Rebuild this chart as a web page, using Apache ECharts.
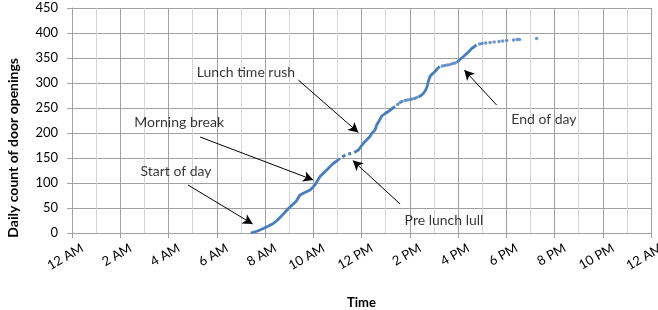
<!DOCTYPE html>
<html>
<head>
<meta charset="utf-8">
<script src="https://cdn.jsdelivr.net/npm/echarts@6/dist/echarts.min.js"></script>
<style>
    html, body { margin: 0; padding: 0; background: #fff; }
    #chart { width: 658px; height: 310px; }
</style>
</head>
<body>
<div id="chart"></div>
<script>
// hours of the day (decimal) and cumulative count
// null breaks the line where the points thin out
const lineHours = [7.41, 7.7, 7.93, 8.15, 8.34, 8.5, 8.62, 8.8, 8.97, 9.17, 9.3, 9.45, 9.65, 9.87, 10.07, 10.28, 10.45, 10.56, 10.7, 10.83, 11.0, 11.11, null,
    11.2, 11.33, null, 11.45, 11.57, null,
    11.7, 11.87, 11.94, 12.07, 12.15, 12.35, 12.42, 12.56, 12.63, 12.75, 12.84, 12.95, 13.11, 13.25, 13.39, null,
    14.36, 14.47, 14.56, 14.65, 14.72, 14.77, 14.84, 14.95, 15.05, 15.15, 15.25, null,
    15.95, 16.08, 16.15, 16.25, 16.36, 16.45, 16.57, 16.65, 16.77];
const lineCounts = [0, 4, 9, 14, 19, 25, 31, 40, 49, 58, 64, 76, 81, 86, 96, 113, 121, 126, 133, 139, 145, 149, null,
    152, 156, null, 158, 159, null,
    161, 166, 167, 179, 183, 193, 199, 206, 216, 226, 234, 238, 243, 248, 253, null,
    272, 275, 279, 285, 293, 303, 313, 319, 323, 329, 333, null,
    341, 347, 350, 354, 359, 363, 369, 372, 376];

const dotHours = [13.5, 13.6, 13.67, 13.8, 13.9, 14.01, 14.1, 14.2, 14.29,
    15.35, 15.45, 15.56, 15.67, 15.78, 15.88,
    16.9, 17.0, 17.15, 17.33, 17.5, 17.7, 17.85, 18.02, 18.3, 18.45, 18.55, 19.26];
const dotCounts = [257, 261, 263, 265, 266, 267, 268, 269, 271,
    334, 335, 336, 337, 339, 340,
    378, 379, 380, 381, 382, 383, 384, 385, 386, 387, 387, 389];

const xTickLabels = ['12 AM', '2 AM', '4 AM', '6 AM', '8 AM', '10 AM', '12 PM', '2 PM', '4 PM', '6 PM', '8 PM', '10 PM', '12 AM'];
const yTicks = [0, 50, 100, 150, 200, 250, 300, 350, 400, 450];

// callouts: text, where the text sits, arrow start, arrow tip (hour, count)
const notes = [
    { text: 'Start of day', at: [4.31, 124], from: [4.81, 96], to: [7.49, 18] },
    { text: 'Morning break', at: [4.44, 222], from: [5.31, 192], to: [10.0, 106] },
    { text: 'Lunch time rush', at: [7.21, 322], from: [9.38, 306], to: [11.87, 201] },
    { text: 'Pre lunch lull', at: [15.42, 26], from: [13.6, 58], to: [11.64, 145] },
    { text: 'End of day', at: [19.56, 228], from: [17.6, 256], to: [16.26, 326] }
];

const blue = '#4a7ebb';
const axisGrey = '#a0a0a0';
const font = 'Lato';

let chart = echarts.init(document.getElementById('chart'), null, { renderer: 'canvas' });

let lineData = lineHours.map((h, i) => h === null ? [null, null] : [h, lineCounts[i]]);
let dotData = dotHours.map((h, i) => [h, dotCounts[i]]);

let option = {
    animation: false,
    backgroundColor: '#fff',
    grid: {
        left: 72,
        right: 7,
        top: 8,
        bottom: 77,
        outerBoundsMode: 'none'
    },
    // y title sits a little below the plot centre, as in the source
    graphic: [{
        type: 'text',
        left: 6,
        top: 58,
        rotation: Math.PI / 2,
        style: {
            text: 'Daily count of door openings',
            fontFamily: font,
            fontWeight: 'bold',
            fontSize: 14,
            fill: '#000'
        }
    }],
    xAxis: {
        type: 'value',
        min: 0,
        max: 24,
        interval: 2,
        name: 'Time',
        nameLocation: 'middle',
        nameGap: 63,
        nameTextStyle: { fontFamily: font, fontWeight: 'bold', fontSize: 13, color: '#000' },
        axisLine: { show: true, lineStyle: { color: axisGrey } },
        axisTick: { show: true, length: 5, lineStyle: { color: axisGrey } },
        axisLabel: {
            rotate: 30,
            margin: 20,
            padding: [0, -12, 0, 0],
            fontFamily: font,
            fontSize: 13,
            color: '#000',
            formatter: v => xTickLabels[Math.round(v / 2)]
        },
        splitLine: { show: true, lineStyle: { color: axisGrey } },
        minorTick: { show: false, splitNumber: 2 },
        minorSplitLine: { show: true, lineStyle: { color: '#d4d4d4' } }
    },
    yAxis: {
        type: 'value',
        min: 0,
        max: 450,
        interval: 50,
        axisLine: { show: true, lineStyle: { color: axisGrey } },
        axisTick: { show: true, length: 5, lineStyle: { color: axisGrey } },
        axisLabel: {
            margin: 14,
            fontFamily: font,
            fontSize: 13,
            color: '#000',
            formatter: v => yTicks.indexOf(v) >= 0 ? String(v) : ''
        },
        splitLine: { show: true, lineStyle: { color: axisGrey } }
    },
    series: [
        {
            name: 'dense',
            type: 'line',
            data: lineData,
            showSymbol: false,
            connectNulls: false,
            lineStyle: { color: blue, width: 2.8 },
            itemStyle: { color: blue }
        },
        {
            name: 'sparse',
            type: 'scatter',
            data: dotData,
            symbolSize: 3.5,
            itemStyle: { color: blue }
        },
        {
            name: 'notes',
            type: 'scatter',
            symbolSize: 0,
            silent: true,
            data: notes.map(n => ({ name: n.text, value: n.at })),
            label: {
                show: true,
                position: 'inside',
                formatter: '{b}',
                fontFamily: font,
                fontSize: 14,
                color: '#000'
            },
            markLine: {
                silent: true,
                symbol: ['none', 'arrow'],
                symbolSize: [8, 10],
                label: { show: false },
                lineStyle: { color: '#000', width: 1, type: 'solid' },
                data: notes.map(n => [{ coord: n.from }, { coord: n.to }])
            }
        }
    ]
};

chart.setOption(option);
</script>
</body>
</html>
